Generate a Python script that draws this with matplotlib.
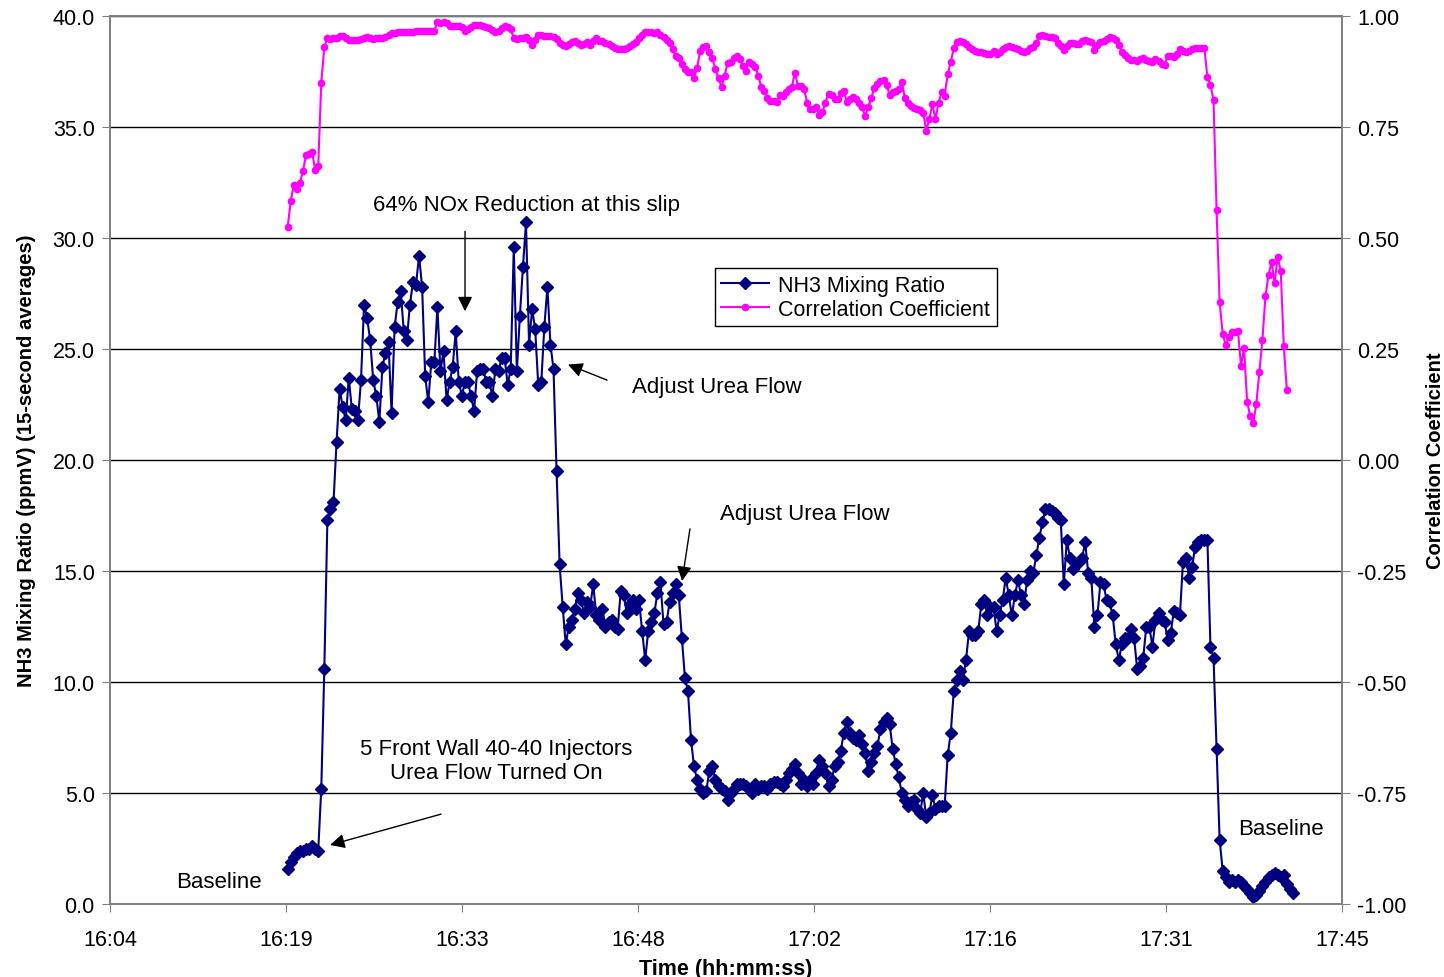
import numpy as np
import pandas as pd
import matplotlib
matplotlib.use('Agg')
import matplotlib.pyplot as plt
from matplotlib.ticker import FuncFormatter, FixedLocator, FormatStrFormatter

# --- Datos (promedios de 15 s) ---
START_TIME = '16:19:20'
STEP_SECONDS = 15

nh3_ppmv = [
    # baseline
    1.6, 1.9, 2.1, 2.3, 2.4, 2.4, 2.5, 2.5, 2.6, 2.5, 2.4,
    # urea on
    5.2, 10.6, 17.3, 17.8, 18.1, 20.8, 23.2, 22.4, 21.8, 23.7, 22.3, 22.2, 21.8, 23.6,
    27.0, 26.4, 25.4, 23.6, 22.9, 21.7, 24.2, 24.8, 25.3, 22.1, 26.0, 27.1, 27.6, 25.8,
    25.4, 27.0, 28.0, 27.9, 29.2, 27.8, 23.8, 22.6, 24.4, 24.4, 26.9, 24.0, 24.9, 22.7,
    23.5, 24.2, 25.8, 23.5, 22.9, 23.5, 23.5, 22.9, 22.2, 24.0, 24.1, 24.1, 23.5, 23.5,
    22.9, 24.1, 24.0, 24.6, 24.6, 23.4, 24.1, 29.6, 24.0, 26.5, 28.7, 30.7, 25.2, 26.8,
    25.9, 23.4, 23.5, 26.0, 27.8, 25.2, 24.1, 19.5, 15.3,
    # first adjustment
    13.4, 11.7, 12.5, 12.8, 13.3, 14.0, 13.7, 13.1, 13.6, 13.4, 14.4, 13.0, 12.8, 13.3,
    12.5, 12.7, 12.8, 12.5, 12.4, 14.1, 13.9, 13.1, 13.5, 13.7, 13.3, 13.7, 12.3, 11.0,
    12.3, 12.7, 13.1, 14.0, 14.5, 12.6, 12.7, 13.6, 14.0, 14.4, 13.9, 12.0, 10.2, 9.6,
    7.4, 6.2, 5.6, 5.2,
    # second adjustment
    5.0, 5.1, 6.0, 6.2, 5.6, 5.3, 5.2, 5.1, 4.7, 5.0, 5.2, 5.4, 5.4, 5.4, 5.3, 5.2,
    5.0, 5.4, 5.2, 5.3, 5.3, 5.2, 5.4, 5.5, 5.5, 5.4, 5.3, 5.6, 5.9, 6.1, 6.3, 5.9,
    5.4, 5.6, 5.3, 5.6, 5.4, 5.9, 6.5, 6.2, 5.9, 5.3, 5.6, 6.2, 6.4, 6.9, 7.7, 8.2,
    7.7, 7.5, 7.4, 7.6, 7.2, 6.8, 6.0,
    6.4, 6.8, 7.1, 7.9, 8.2, 8.4, 8.1, 7.0, 6.3, 5.7, 5.0, 4.7, 4.4, 4.6, 4.7, 4.3,
    4.1, 5.0, 3.9, 4.1, 4.9, 4.3, 4.4, 4.4, 4.4, 6.7, 7.7, 9.6, 10.1, 10.5, 10.1, 11.0,
    12.3, 12.1, 12.1, 12.3, 13.5, 13.7, 13.0,
    13.4, 13.4, 12.3, 13.0, 13.7, 14.7, 13.9, 13.0, 13.9, 14.6, 13.9, 13.5, 14.6, 15.0,
    14.9, 15.7, 16.5, 17.2, 17.8, 17.8, 17.7, 17.6, 17.4, 17.3, 14.4, 16.4, 15.6, 15.1,
    15.3, 15.4, 15.6, 16.3, 14.9, 14.7, 12.5, 13.0, 14.5, 14.4, 13.7, 13.6, 13.0, 11.7,
    11.0, 11.7, 12.0,
    12.0, 12.4, 12.0, 10.6, 10.7, 11.1, 12.5, 12.5, 11.6, 12.8, 13.1, 12.8, 12.7, 11.9,
    12.2, 13.2, 13.1, 13.0, 15.4, 15.6, 14.7, 15.2, 16.1, 16.3, 16.4, 16.4, 16.4, 11.6,
    11.1, 7.0,
    # urea off
    2.9, 1.5, 1.2, 1.0, 1.1, 1.0, 1.1, 1.0, 0.8, 0.7, 0.5, 0.3, 0.4, 0.6, 0.8, 1.0,
    1.2, 1.3, 1.4, 1.3, 1.2, 1.3, 0.9, 0.7, 0.5,
]

corr_coef = [
    0.525, 0.583, 0.620, 0.610, 0.625, 0.650, 0.687, 0.690, 0.694, 0.654, 0.662, 0.850,
    0.930, 0.950,
    0.948, 0.950, 0.951, 0.955, 0.954, 0.950, 0.947, 0.946, 0.945, 0.946, 0.948, 0.951,
    0.952, 0.950, 0.949, 0.950, 0.951, 0.951, 0.953, 0.958, 0.961, 0.962, 0.963, 0.963,
    0.964, 0.965, 0.965, 0.965, 0.966, 0.966, 0.966, 0.967, 0.967, 0.967, 0.967,
    0.987, 0.985, 0.986, 0.984, 0.978, 0.977, 0.978, 0.978, 0.976, 0.967, 0.970, 0.976,
    0.979, 0.980, 0.979, 0.978, 0.976, 0.974, 0.968, 0.965, 0.967, 0.972, 0.978, 0.976,
    0.970, 0.950, 0.948, 0.950, 0.951, 0.952, 0.945, 0.935, 0.945, 0.957, 0.958, 0.956,
    0.954, 0.955, 0.953, 0.948, 0.940, 0.935, 0.933, 0.936, 0.942, 0.944, 0.940, 0.935,
    0.936, 0.942, 0.934, 0.944, 0.950, 0.944, 0.943, 0.940, 0.937, 0.933, 0.928,
    0.926, 0.925, 0.926, 0.929, 0.933, 0.937, 0.942, 0.950, 0.958, 0.963, 0.964, 0.963,
    0.962, 0.963, 0.958, 0.952, 0.947, 0.940, 0.925, 0.910, 0.905, 0.892, 0.880, 0.873,
    0.873, 0.860, 0.884, 0.921, 0.930, 0.932, 0.919, 0.905, 0.880, 0.860, 0.840, 0.866,
    0.894, 0.896, 0.905, 0.910, 0.903, 0.887, 0.877, 0.897, 0.893, 0.886, 0.866, 0.840,
    0.831, 0.815, 0.809, 0.808, 0.806, 0.822, 0.819, 0.828, 0.835, 0.840, 0.872, 0.843,
    0.843, 0.835, 0.805, 0.790, 0.790, 0.795, 0.777, 0.783, 0.805, 0.825, 0.822, 0.814,
    0.812, 0.826, 0.831, 0.806, 0.812, 0.817, 0.814, 0.804, 0.795, 0.775, 0.795, 0.815,
    0.838, 0.848, 0.853, 0.855, 0.845, 0.822, 0.828, 0.830, 0.835, 0.852, 0.815, 0.804,
    0.797, 0.793, 0.790, 0.788, 0.782, 0.741, 0.768, 0.802, 0.768, 0.804, 0.828, 0.820,
    0.869, 0.896, 0.928, 0.941, 0.943, 0.941, 0.937, 0.930, 0.926, 0.922, 0.919, 0.918,
    0.916, 0.914, 0.915, 0.921, 0.914, 0.918, 0.925, 0.930, 0.932, 0.931, 0.928,
    0.925, 0.921, 0.919, 0.922, 0.927, 0.930, 0.940, 0.955, 0.957, 0.956, 0.953, 0.953,
    0.950, 0.940, 0.932, 0.923, 0.932, 0.939, 0.940, 0.938, 0.937, 0.943, 0.946, 0.944,
    0.941, 0.923, 0.935, 0.941, 0.944, 0.948, 0.952, 0.951, 0.945, 0.935, 0.919, 0.913,
    0.906, 0.902, 0.900, 0.899, 0.903, 0.905, 0.902, 0.898, 0.897, 0.903, 0.898, 0.892,
    0.890, 0.910, 0.911, 0.908, 0.915, 0.926, 0.922, 0.919, 0.921, 0.926, 0.928, 0.929,
    0.929, 0.928, 0.862, 0.845, 0.811, 0.563, 0.356, 0.284, 0.259, 0.277, 0.288, 0.288,
    0.291, 0.212, 0.252, 0.131, 0.099, 0.083, 0.126, 0.198, 0.270, 0.369, 0.417, 0.446,
    0.399, 0.457, 0.426, 0.257, 0.158,
]

X_TICKS = [0.67, 0.68, 0.69, 0.70, 0.71, 0.72, 0.73, 0.74]  # fracción de día (Excel)
NH3_TICKS = [0, 5, 10, 15, 20, 25, 30, 35, 40]
CORR_TICKS = [-1.0, -0.75, -0.5, -0.25, 0.0, 0.25, 0.5, 0.75, 1.0]


def day_fraction(n):
    t0 = pd.to_timedelta(START_TIME).total_seconds()
    return (t0 + np.arange(n) * STEP_SECONDS) / 86400.0


def hhmm(x, pos):
    s = int(round(x * 86400))
    return f"{s // 3600}:{(s % 3600) // 60:02d}"


plt.rcParams['font.family'] = ['Liberation Sans', 'DejaVu Sans']

fig = plt.figure(figsize=(14.44, 9.78), dpi=100)
ax = fig.add_axes([0.0762, 0.0746, 0.8532, 0.908])
ax2 = ax.twinx()

x_nh3 = day_fraction(len(nh3_ppmv))
x_corr = day_fraction(len(corr_coef))

l1, = ax.plot(x_nh3, nh3_ppmv, color='#000080', marker='D', ms=6, lw=1.5,
              label='NH3 Mixing Ratio', zorder=3)
l2, = ax2.plot(x_corr, corr_coef, color='#FF00FF', marker='o', ms=4.5, lw=1.5,
               label='Correlation Coefficient')

ax.set_xlim(0.67, 0.74)
ax.set_ylim(0, 40)
ax2.set_ylim(-1, 1)
ax.xaxis.set_major_locator(FixedLocator(X_TICKS))
ax.xaxis.set_major_formatter(FuncFormatter(hhmm))
ax.yaxis.set_major_locator(FixedLocator(NH3_TICKS))
ax.yaxis.set_major_formatter(FormatStrFormatter('%.1f'))
ax2.yaxis.set_major_locator(FixedLocator(CORR_TICKS))
ax2.yaxis.set_major_formatter(FormatStrFormatter('%.2f'))

ax.yaxis.grid(True, color='black', lw=1)
ax.set_axisbelow(True)

for a in (ax, ax2):
    for sp in a.spines.values():
        sp.set_color('#808080')
        sp.set_linewidth(1.2)
    a.tick_params(direction='out', length=6, color='#808080', labelsize=15.5, pad=5)
ax.tick_params(axis='x', pad=12)

ax.set_xlabel('Time (hh:mm:ss)', fontsize=15.5, fontweight='bold', labelpad=6)
ax.set_ylabel('NH3 Mixing Ratio (ppmV) (15-second averages)', fontsize=14.5,
              fontweight='bold', labelpad=12)
ax2.set_ylabel('Correlation Coefficient', fontsize=14.5, fontweight='bold', labelpad=14)

leg = ax2.legend(handles=[l1, l2], loc='upper left', bbox_to_anchor=(0.491, 0.716),
                 fontsize=15.5, fancybox=False, framealpha=1, edgecolor='black',
                 borderpad=0.3, handlelength=2.2, handletextpad=0.45,
                 labelspacing=0.15, borderaxespad=0)
leg.get_frame().set_linewidth(1)

# --- Anotaciones ---
arrow = dict(arrowstyle='-|>', color='black', lw=1, mutation_scale=22, shrinkA=0, shrinkB=0)
txt = dict(fontsize=16, color='black')

ax.text(0.69364, 31.5, '64% NOx Reduction at this slip', ha='center', va='center', **txt)
ax.annotate('', xy=(0.69017, 26.7), xytext=(0.69017, 30.3), arrowprops=arrow)

ax.text(0.69966, 23.3, 'Adjust Urea Flow', ha='left', va='center', **txt)
ax.annotate('', xy=(0.69602, 24.3), xytext=(0.69824, 23.6), arrowprops=arrow)

ax.text(0.70466, 17.6, 'Adjust Urea Flow', ha='left', va='center', **txt)
ax.annotate('', xy=(0.70250, 14.55), xytext=(0.70295, 16.9), arrowprops=arrow)

ax.text(0.69193, 6.45, '5 Front Wall 40-40 Injectors\nUrea Flow Turned On',
        ha='center', va='center', linespacing=1.2, **txt)
ax.annotate('', xy=(0.68250, 2.66), xytext=(0.68881, 4.05), arrowprops=arrow)

ax.text(0.67619, 1.0, 'Baseline', ha='center', va='center', **txt)
ax.text(0.73653, 3.42, 'Baseline', ha='center', va='center', **txt)

fig.savefig('out.png', dpi=100)
